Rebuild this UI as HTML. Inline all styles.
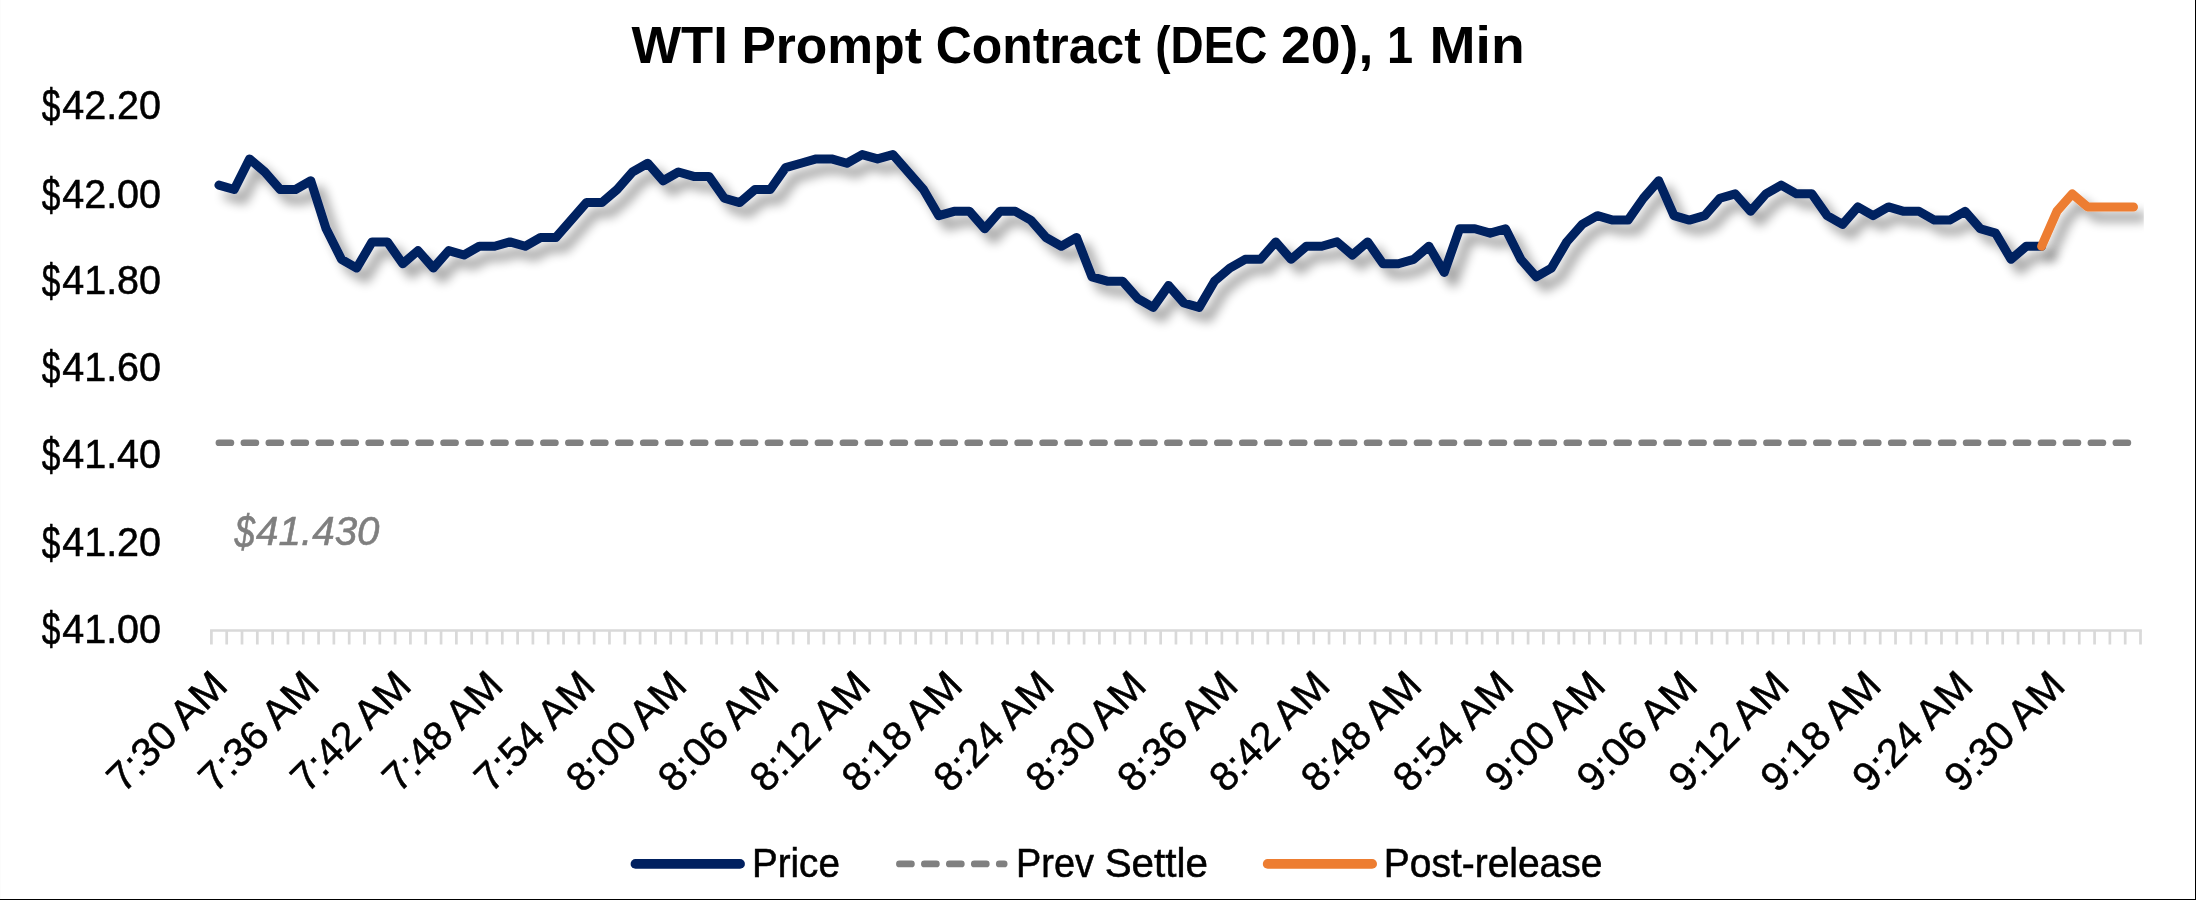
<!DOCTYPE html>
<html><head><meta charset="utf-8"><title>WTI Prompt Contract (DEC 20), 1 Min</title>
<style>
html,body{margin:0;padding:0;background:#fff;}
body{width:2196px;height:900px;overflow:hidden;position:relative;font-family:"Liberation Sans",sans-serif;}
svg{position:absolute;left:0;top:0;display:block;}
text{font-family:"Liberation Sans",sans-serif;fill:#000;opacity:0.9999;}
.ax{font-size:40.6px;stroke:#000;stroke-width:0.55px;}
.ttl{font-size:52px;font-weight:bold;}
.it{font-style:italic;fill:#7f7f7f;stroke:#7f7f7f;}
</style></head>
<body>
<svg width="2196" height="900" viewBox="0 0 2196 900">
<defs>
<filter id="sh" x="150" y="100" width="2040" height="300" filterUnits="userSpaceOnUse">
<feGaussianBlur in="SourceAlpha" stdDeviation="5.4" result="b"/>
<feOffset in="b" dx="8.5" dy="9.5" result="o"/>
<feComponentTransfer in="o" result="s"><feFuncA type="linear" slope="0.39"/></feComponentTransfer>
<feMerge><feMergeNode in="s"/><feMergeNode in="SourceGraphic"/></feMerge>
</filter>
<clipPath id="plot"><rect x="213.3" y="60" width="1930.5" height="570.50"/></clipPath>
</defs>
<rect x="0" y="0" width="2196" height="900" fill="#fff"/>
<!-- frame -->
<rect x="0" y="0" width="1" height="899" fill="#fcfcfc"/>
<rect x="2195" y="0" width="1" height="900" fill="#000"/>
<rect x="0" y="899" width="2196" height="1" fill="#000"/>
<!-- title -->
<text class="ttl" x="631.50" y="62.8" textLength="96.30" lengthAdjust="spacingAndGlyphs">WTI</text>
<text class="ttl" x="741.38" y="62.8" textLength="180.47" lengthAdjust="spacingAndGlyphs">Prompt</text>
<text class="ttl" x="935.74" y="62.8" textLength="205.20" lengthAdjust="spacingAndGlyphs">Contract</text>
<text class="ttl" x="1155.35" y="62.8" textLength="111.92" lengthAdjust="spacingAndGlyphs">(DEC</text>
<text class="ttl" x="1281.13" y="62.8" textLength="92.13" lengthAdjust="spacingAndGlyphs">20),</text>
<text class="ttl" x="1387.07" y="62.8" textLength="26.10" lengthAdjust="spacingAndGlyphs">1</text>
<text class="ttl" x="1429.55" y="62.8" textLength="95.12" lengthAdjust="spacingAndGlyphs">Min</text>

<!-- category axis -->
<path d="M210.05 630.50H2141.85" stroke="#d9d9d9" stroke-width="2.7" fill="none"/>
<path d="M211.40 630.50V644.4M226.71 630.50V644.4M242.02 630.50V644.4M257.33 630.50V644.4M272.64 630.50V644.4M287.95 630.50V644.4M303.26 630.50V644.4M318.57 630.50V644.4M333.88 630.50V644.4M349.19 630.50V644.4M364.50 630.50V644.4M379.81 630.50V644.4M395.12 630.50V644.4M410.43 630.50V644.4M425.74 630.50V644.4M441.05 630.50V644.4M456.37 630.50V644.4M471.68 630.50V644.4M486.99 630.50V644.4M502.30 630.50V644.4M517.61 630.50V644.4M532.92 630.50V644.4M548.23 630.50V644.4M563.54 630.50V644.4M578.85 630.50V644.4M594.16 630.50V644.4M609.47 630.50V644.4M624.78 630.50V644.4M640.09 630.50V644.4M655.40 630.50V644.4M670.71 630.50V644.4M686.02 630.50V644.4M701.33 630.50V644.4M716.64 630.50V644.4M731.95 630.50V644.4M747.26 630.50V644.4M762.57 630.50V644.4M777.88 630.50V644.4M793.19 630.50V644.4M808.50 630.50V644.4M823.81 630.50V644.4M839.12 630.50V644.4M854.43 630.50V644.4M869.74 630.50V644.4M885.05 630.50V644.4M900.36 630.50V644.4M915.67 630.50V644.4M930.98 630.50V644.4M946.30 630.50V644.4M961.61 630.50V644.4M976.92 630.50V644.4M992.23 630.50V644.4M1007.54 630.50V644.4M1022.85 630.50V644.4M1038.16 630.50V644.4M1053.47 630.50V644.4M1068.78 630.50V644.4M1084.09 630.50V644.4M1099.40 630.50V644.4M1114.71 630.50V644.4M1130.02 630.50V644.4M1145.33 630.50V644.4M1160.64 630.50V644.4M1175.95 630.50V644.4M1191.26 630.50V644.4M1206.57 630.50V644.4M1221.88 630.50V644.4M1237.19 630.50V644.4M1252.50 630.50V644.4M1267.81 630.50V644.4M1283.12 630.50V644.4M1298.43 630.50V644.4M1313.74 630.50V644.4M1329.05 630.50V644.4M1344.36 630.50V644.4M1359.67 630.50V644.4M1374.98 630.50V644.4M1390.29 630.50V644.4M1405.60 630.50V644.4M1420.92 630.50V644.4M1436.23 630.50V644.4M1451.54 630.50V644.4M1466.85 630.50V644.4M1482.16 630.50V644.4M1497.47 630.50V644.4M1512.78 630.50V644.4M1528.09 630.50V644.4M1543.40 630.50V644.4M1558.71 630.50V644.4M1574.02 630.50V644.4M1589.33 630.50V644.4M1604.64 630.50V644.4M1619.95 630.50V644.4M1635.26 630.50V644.4M1650.57 630.50V644.4M1665.88 630.50V644.4M1681.19 630.50V644.4M1696.50 630.50V644.4M1711.81 630.50V644.4M1727.12 630.50V644.4M1742.43 630.50V644.4M1757.74 630.50V644.4M1773.05 630.50V644.4M1788.36 630.50V644.4M1803.67 630.50V644.4M1818.98 630.50V644.4M1834.29 630.50V644.4M1849.60 630.50V644.4M1864.91 630.50V644.4M1880.22 630.50V644.4M1895.53 630.50V644.4M1910.85 630.50V644.4M1926.16 630.50V644.4M1941.47 630.50V644.4M1956.78 630.50V644.4M1972.09 630.50V644.4M1987.40 630.50V644.4M2002.71 630.50V644.4M2018.02 630.50V644.4M2033.33 630.50V644.4M2048.64 630.50V644.4M2063.95 630.50V644.4M2079.26 630.50V644.4M2094.57 630.50V644.4M2109.88 630.50V644.4M2125.19 630.50V644.4M2140.50 630.50V644.4" stroke="#d9d9d9" stroke-width="2.7" fill="none"/>
<!-- value axis labels -->
<text class="ax" transform="translate(41.75 121.70) scale(0.8242 1.157)">$</text>
<text class="ax" x="62.18" y="118.9" textLength="98.90" lengthAdjust="spacingAndGlyphs">42.20</text>
<text class="ax" transform="translate(41.75 210.60) scale(0.8242 1.157)">$</text>
<text class="ax" x="62.18" y="207.8" textLength="98.90" lengthAdjust="spacingAndGlyphs">42.00</text>
<text class="ax" transform="translate(41.75 296.80) scale(0.8242 1.157)">$</text>
<text class="ax" x="62.18" y="294.0" textLength="98.90" lengthAdjust="spacingAndGlyphs">41.80</text>
<text class="ax" transform="translate(41.75 383.90) scale(0.8242 1.157)">$</text>
<text class="ax" x="62.18" y="381.1" textLength="98.90" lengthAdjust="spacingAndGlyphs">41.60</text>
<text class="ax" transform="translate(41.75 470.60) scale(0.8242 1.157)">$</text>
<text class="ax" x="62.18" y="467.8" textLength="98.90" lengthAdjust="spacingAndGlyphs">41.40</text>
<text class="ax" transform="translate(41.75 558.60) scale(0.8242 1.157)">$</text>
<text class="ax" x="62.18" y="555.8" textLength="98.90" lengthAdjust="spacingAndGlyphs">41.20</text>
<text class="ax" transform="translate(41.75 645.30) scale(0.8242 1.157)">$</text>
<text class="ax" x="62.18" y="642.5" textLength="98.90" lengthAdjust="spacingAndGlyphs">41.00</text>

<!-- category labels -->
<text class="ax" transform="translate(123.43 794.04) rotate(-45)" textLength="150.00" lengthAdjust="spacingAndGlyphs">7:30 AM</text>
<text class="ax" transform="translate(215.31 794.04) rotate(-45)" textLength="150.00" lengthAdjust="spacingAndGlyphs">7:36 AM</text>
<text class="ax" transform="translate(307.19 794.04) rotate(-45)" textLength="150.00" lengthAdjust="spacingAndGlyphs">7:42 AM</text>
<text class="ax" transform="translate(399.07 794.04) rotate(-45)" textLength="150.00" lengthAdjust="spacingAndGlyphs">7:48 AM</text>
<text class="ax" transform="translate(490.94 794.04) rotate(-45)" textLength="150.00" lengthAdjust="spacingAndGlyphs">7:54 AM</text>
<text class="ax" transform="translate(582.82 794.04) rotate(-45)" textLength="150.00" lengthAdjust="spacingAndGlyphs">8:00 AM</text>
<text class="ax" transform="translate(674.70 794.04) rotate(-45)" textLength="150.00" lengthAdjust="spacingAndGlyphs">8:06 AM</text>
<text class="ax" transform="translate(766.58 794.04) rotate(-45)" textLength="150.00" lengthAdjust="spacingAndGlyphs">8:12 AM</text>
<text class="ax" transform="translate(858.45 794.04) rotate(-45)" textLength="150.00" lengthAdjust="spacingAndGlyphs">8:18 AM</text>
<text class="ax" transform="translate(950.33 794.04) rotate(-45)" textLength="150.00" lengthAdjust="spacingAndGlyphs">8:24 AM</text>
<text class="ax" transform="translate(1042.21 794.04) rotate(-45)" textLength="150.00" lengthAdjust="spacingAndGlyphs">8:30 AM</text>
<text class="ax" transform="translate(1134.09 794.04) rotate(-45)" textLength="150.00" lengthAdjust="spacingAndGlyphs">8:36 AM</text>
<text class="ax" transform="translate(1225.96 794.04) rotate(-45)" textLength="150.00" lengthAdjust="spacingAndGlyphs">8:42 AM</text>
<text class="ax" transform="translate(1317.84 794.04) rotate(-45)" textLength="150.00" lengthAdjust="spacingAndGlyphs">8:48 AM</text>
<text class="ax" transform="translate(1409.72 794.04) rotate(-45)" textLength="150.00" lengthAdjust="spacingAndGlyphs">8:54 AM</text>
<text class="ax" transform="translate(1501.59 794.04) rotate(-45)" textLength="150.00" lengthAdjust="spacingAndGlyphs">9:00 AM</text>
<text class="ax" transform="translate(1593.47 794.04) rotate(-45)" textLength="150.00" lengthAdjust="spacingAndGlyphs">9:06 AM</text>
<text class="ax" transform="translate(1685.35 794.04) rotate(-45)" textLength="150.00" lengthAdjust="spacingAndGlyphs">9:12 AM</text>
<text class="ax" transform="translate(1777.23 794.04) rotate(-45)" textLength="150.00" lengthAdjust="spacingAndGlyphs">9:18 AM</text>
<text class="ax" transform="translate(1869.10 794.04) rotate(-45)" textLength="150.00" lengthAdjust="spacingAndGlyphs">9:24 AM</text>
<text class="ax" transform="translate(1960.98 794.04) rotate(-45)" textLength="150.00" lengthAdjust="spacingAndGlyphs">9:30 AM</text>

<!-- prev settle -->
<path d="M218.90 442.74H2133.50" stroke="#808080" stroke-width="6.67" stroke-linecap="round" stroke-dasharray="12.04 12.92" fill="none"/>
<text class="ax it" transform="translate(234.47 547.70) scale(0.9023 1.157)">$</text>
<text class="ax it" x="256.10" y="544.9" textLength="123.44" lengthAdjust="spacingAndGlyphs">41.430</text>

<!-- series -->
<g clip-path="url(#plot)">
<polyline points="218.90,185.12 234.22,189.48 249.53,158.92 264.85,172.02 280.17,189.48 295.48,189.48 310.80,180.75 326.12,228.78 341.43,259.35 356.75,268.08 372.07,241.88 387.38,241.88 402.70,263.71 418.02,250.61 433.34,268.08 448.65,250.61 463.97,254.98 479.29,246.25 494.60,246.25 509.92,241.88 525.24,246.25 540.55,237.52 555.87,237.52 571.19,220.05 586.50,202.58 601.82,202.58 617.14,189.48 632.45,172.02 647.77,163.28 663.09,180.75 678.40,172.02 693.72,176.38 709.04,176.38 724.35,198.22 739.67,202.58 754.99,189.48 770.30,189.48 785.62,167.65 800.94,163.28 816.26,158.92 831.57,158.92 846.89,163.28 862.21,154.55 877.52,158.92 892.84,154.55 908.16,172.02 923.47,189.48 938.79,215.68 954.11,211.32 969.42,211.32 984.74,228.78 1000.06,211.32 1015.37,211.32 1030.69,220.05 1046.01,237.52 1061.32,246.25 1076.64,237.52 1091.96,276.81 1107.27,281.18 1122.59,281.18 1137.91,298.65 1153.22,307.38 1168.54,285.55 1183.86,303.01 1199.18,307.38 1214.49,281.18 1229.81,268.08 1245.13,259.35 1260.44,259.35 1275.76,241.88 1291.08,259.35 1306.39,246.25 1321.71,246.25 1337.03,241.88 1352.34,254.98 1367.66,241.88 1382.98,263.71 1398.29,263.71 1413.61,259.35 1428.93,246.25 1444.24,272.45 1459.56,228.78 1474.88,228.78 1490.19,233.15 1505.51,228.78 1520.83,259.35 1536.14,276.81 1551.46,268.08 1566.78,241.88 1582.10,224.42 1597.41,215.68 1612.73,220.05 1628.05,220.05 1643.36,198.22 1658.68,180.75 1674.00,215.68 1689.31,220.05 1704.63,215.68 1719.95,198.22 1735.26,193.85 1750.58,211.32 1765.90,193.85 1781.21,185.12 1796.53,193.85 1811.85,193.85 1827.16,215.68 1842.48,224.42 1857.80,206.95 1873.11,215.68 1888.43,206.95 1903.75,211.32 1919.06,211.32 1934.38,220.05 1949.70,220.05 1965.02,211.32 1980.33,228.78 1995.65,233.15 2010.97,259.35 2026.28,246.25 2041.60,246.25" fill="none" stroke="#002060" stroke-width="9.0" stroke-linecap="round" stroke-linejoin="round" filter="url(#sh)"/>
<polyline points="2041.60,246.25 2056.92,211.32 2072.23,193.85 2087.55,206.95 2102.87,206.95 2118.18,206.95 2133.50,206.95" fill="none" stroke="#ed7d31" stroke-width="9.0" stroke-linecap="round" stroke-linejoin="round" filter="url(#sh)"/>
</g>
<!-- legend -->
<path d="M635.5 863.9H740" stroke="#002060" stroke-width="9.8" stroke-linecap="round" fill="none"/>
<text class="ax" x="751.99" y="877" textLength="87.88" lengthAdjust="spacingAndGlyphs">Price</text>

<path d="M899.4 863.9H1004.2" stroke="#808080" stroke-width="6.67" stroke-linecap="round" stroke-dasharray="12.04 12.92" fill="none"/>
<text class="ax" x="1016.04" y="877" textLength="77.86" lengthAdjust="spacingAndGlyphs">Prev</text>
<text class="ax" x="1104.64" y="877" textLength="103.20" lengthAdjust="spacingAndGlyphs">Settle</text>

<path d="M1267.7 863.9H1372.1" stroke="#ed7d31" stroke-width="9.8" stroke-linecap="round" fill="none"/>
<text class="ax" x="1383.86" y="877" textLength="218.52" lengthAdjust="spacingAndGlyphs">Post-release</text>

</svg>
</body></html>
